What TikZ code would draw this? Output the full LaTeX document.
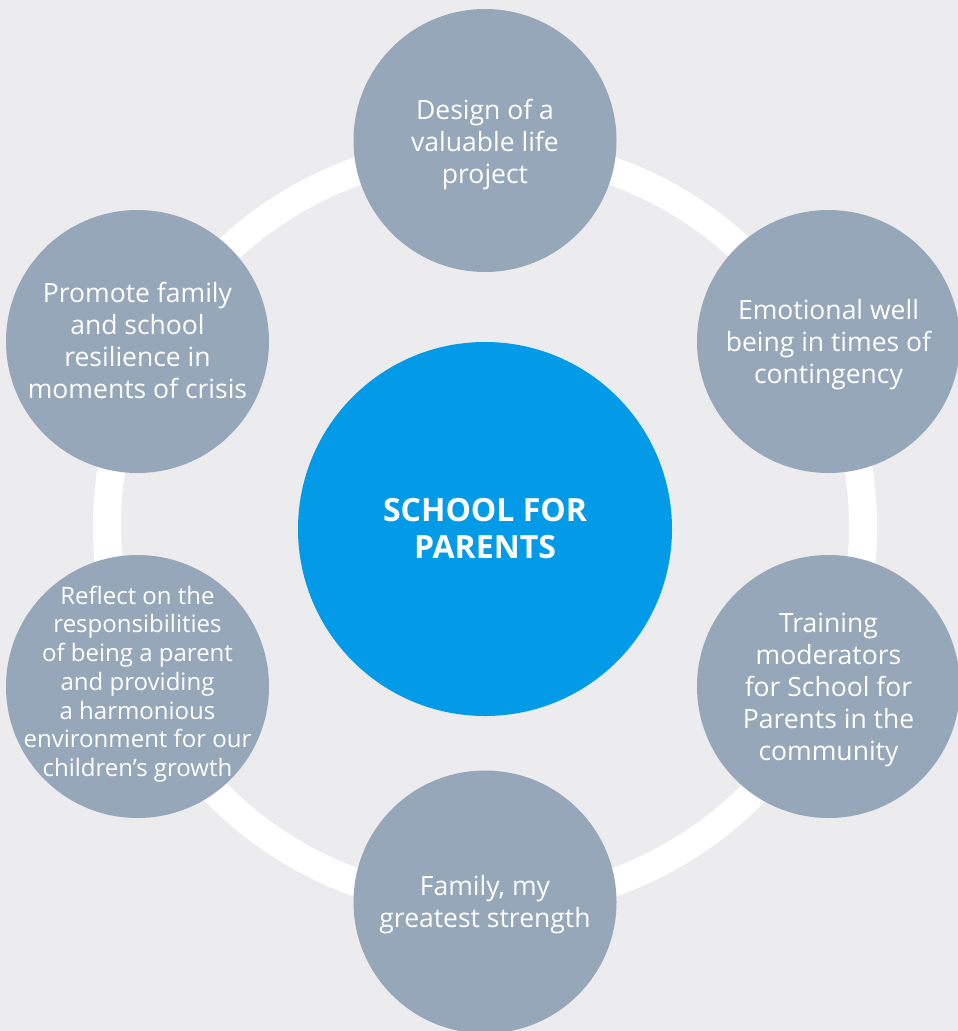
\documentclass[tikz,border=0pt]{standalone}
\usepackage{fontspec}
\setmainfont{Open Sans}
\definecolor{bgc}{RGB}{236,236,239}
\definecolor{petalc}{RGB}{150,167,185}
\definecolor{corec}{RGB}{3,155,232}
\begin{document}
\begin{tikzpicture}[x=1pt,y=-1pt,
  petal/.style={circle,fill=petalc,minimum size=263pt,inner sep=0pt},
  petaltext/.style={inner sep=0pt,align=center,text=white,font=\fontsize{26.5}{32}\selectfont},
  smalltext/.style={petaltext,font=\fontsize{24}{28.7}\selectfont},
  core/.style={circle,fill=corec,minimum size=374pt,inner sep=0pt,align=center,text=white,font=\fontsize{32}{37}\selectfont\bfseries},
  ring/.style={draw=white,line width=28pt}]
\fill[bgc] (0,0) rectangle (958,1031);
\useasboundingbox (0,0) rectangle (958,1031);
\clip (0,0) rectangle (958,1031);
\coordinate (o) at (485,527);
\draw[ring] (o) circle[radius=378];
\node[core] (c) at (485,529) {SCHOOL FOR\\PARENTS};
\node[petal] (top) at (485,140.5) {};
\node[petal] (ur) at (828.5,341.5) {};
\node[petal] (lr) at (828.5,686.5) {};
\node[petal] (bot) at (485,902) {};
\node[petal] (ll) at (137.5,686.5) {};
\node[petal] (ul) at (137.5,341.5) {};
\node[petaltext] (toptext) at ([yshift=-4pt]top.center) {Design of a\\valuable life\\project};
\node[petaltext] (urtext) at ([yshift=-3pt]ur.center) {Emotional well\\being in times of\\contingency};
\node[petaltext] (lrtext) at ([yshift=-3pt]lr.center) {Training\\moderators\\for School for\\Parents in the\\community};
\node[petaltext] (bottext) at ([yshift=-3pt]bot.center) {Family, my\\greatest strength};
\node[smalltext] (lltext) at ([yshift=2.5pt]ll.center) {Reflect on the\\responsibilities\\of being a parent\\and providing\\a harmonious\\environment for our\\children’s growth};
\node[petaltext] (ultext) at ([yshift=1pt]ul.center) {Promote family\\and school\\resilience in\\moments of crisis};
\end{tikzpicture}
\end{document}
